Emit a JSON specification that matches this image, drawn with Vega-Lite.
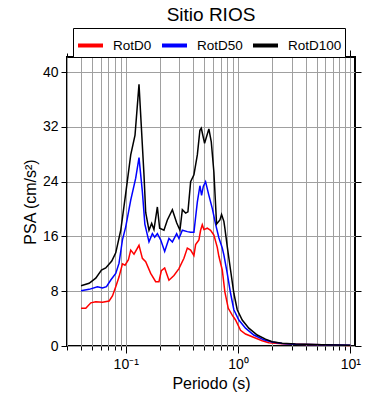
{
  "$schema": "https://vega.github.io/schema/vega-lite/v6.json",
  "width": 288,
  "height": 289,
  "autosize": {"type": "none"},
  "padding": {"left": 67, "top": 57, "right": 35, "bottom": 54},
  "title": {"text": "Sitio RIOS", "fontSize": 19, "font": "Liberation Sans", "fontWeight": "normal", "color": "black", "anchor": "middle", "offset": 3},
  "config": {
    "view": {"stroke": "black", "strokeWidth": 2},
    "font": "Liberation Sans",
    "axis": {"labelFont": "Liberation Sans", "titleFont": "Liberation Sans", "labelColor": "black", "titleColor": "black", "tickColor": "black", "titleFontWeight": "normal"}
  },
  "data": {"values": [
    {"T":0.04,"v":5.5,"s":"RotD0"},{"T":0.0441,"v":5.5,"s":"RotD0"},{"T":0.0489,"v":6.3,"s":"RotD0"},{"T":0.0541,"v":6.47,"s":"RotD0"},{"T":0.0621,"v":6.38,"s":"RotD0"},{"T":0.0711,"v":6.57,"s":"RotD0"},{"T":0.0762,"v":7.3,"s":"RotD0"},{"T":0.0815,"v":8.66,"s":"RotD0"},{"T":0.0872,"v":10.1,"s":"RotD0"},{"T":0.0935,"v":12.0,"s":"RotD0"},{"T":0.0986,"v":11.8,"s":"RotD0"},{"T":0.1057,"v":12.6,"s":"RotD0"},{"T":0.1108,"v":14.0,"s":"RotD0"},{"T":0.1185,"v":13.4,"s":"RotD0"},{"T":0.1313,"v":14.7,"s":"RotD0"},{"T":0.1407,"v":12.8,"s":"RotD0"},{"T":0.1506,"v":12.3,"s":"RotD0"},{"T":0.1668,"v":10.6,"s":"RotD0"},{"T":0.1848,"v":9.4,"s":"RotD0"},{"T":0.1977,"v":9.4,"s":"RotD0"},{"T":0.2076,"v":11.0,"s":"RotD0"},{"T":0.2222,"v":11.4,"s":"RotD0"},{"T":0.2426,"v":9.6,"s":"RotD0"},{"T":0.2688,"v":10.3,"s":"RotD0"},{"T":0.2978,"v":11.3,"s":"RotD0"},{"T":0.3298,"v":12.8,"s":"RotD0"},{"T":0.3536,"v":14.3,"s":"RotD0"},{"T":0.3784,"v":14.0,"s":"RotD0"},{"T":0.4048,"v":13.2,"s":"RotD0"},{"T":0.4191,"v":14.8,"s":"RotD0"},{"T":0.4485,"v":15.5,"s":"RotD0"},{"T":0.4642,"v":16.9,"s":"RotD0"},{"T":0.4805,"v":17.7,"s":"RotD0"},{"T":0.4966,"v":17.0,"s":"RotD0"},{"T":0.5323,"v":17.2,"s":"RotD0"},{"T":0.5696,"v":16.9,"s":"RotD0"},{"T":0.6094,"v":16.2,"s":"RotD0"},{"T":0.6533,"v":14.4,"s":"RotD0"},{"T":0.675,"v":13.1,"s":"RotD0"},{"T":0.7237,"v":11.1,"s":"RotD0"},{"T":0.7633,"v":7.9,"s":"RotD0"},{"T":0.8184,"v":5.5,"s":"RotD0"},{"T":0.8881,"v":4.5,"s":"RotD0"},{"T":0.9502,"v":3.8,"s":"RotD0"},{"T":1.0524,"v":2.3,"s":"RotD0"},{"T":1.1659,"v":1.75,"s":"RotD0"},{"T":1.3371,"v":1.36,"s":"RotD0"},{"T":1.641,"v":0.77,"s":"RotD0"},{"T":1.878,"v":0.49,"s":"RotD0"},{"T":2.471,"v":0.33,"s":"RotD0"},{"T":3.244,"v":0.25,"s":"RotD0"},{"T":5.603,"v":0.17,"s":"RotD0"},{"T":10,"v":0.09,"s":"RotD0"},
    {"T":0.04,"v":8.07,"s":"RotD50"},{"T":0.0472,"v":8.27,"s":"RotD50"},{"T":0.056,"v":8.66,"s":"RotD50"},{"T":0.0621,"v":8.47,"s":"RotD50"},{"T":0.0674,"v":8.66,"s":"RotD50"},{"T":0.0736,"v":9.64,"s":"RotD50"},{"T":0.0815,"v":10.6,"s":"RotD50"},{"T":0.0872,"v":12.1,"s":"RotD50"},{"T":0.0935,"v":15.5,"s":"RotD50"},{"T":0.1,"v":17.4,"s":"RotD50"},{"T":0.1108,"v":21.3,"s":"RotD50"},{"T":0.1227,"v":24.5,"s":"RotD50"},{"T":0.1313,"v":27.5,"s":"RotD50"},{"T":0.1407,"v":22.5,"s":"RotD50"},{"T":0.148,"v":17.8,"s":"RotD50"},{"T":0.1611,"v":15.2,"s":"RotD50"},{"T":0.1727,"v":16.4,"s":"RotD50"},{"T":0.181,"v":15.9,"s":"RotD50"},{"T":0.1913,"v":16.4,"s":"RotD50"},{"T":0.2047,"v":15.5,"s":"RotD50"},{"T":0.2222,"v":13.8,"s":"RotD50"},{"T":0.2426,"v":15.7,"s":"RotD50"},{"T":0.2602,"v":15.2,"s":"RotD50"},{"T":0.2841,"v":16.4,"s":"RotD50"},{"T":0.2978,"v":15.7,"s":"RotD50"},{"T":0.3192,"v":16.9,"s":"RotD50"},{"T":0.3536,"v":16.7,"s":"RotD50"},{"T":0.3784,"v":16.6,"s":"RotD50"},{"T":0.4048,"v":16.6,"s":"RotD50"},{"T":0.434,"v":21.0,"s":"RotD50"},{"T":0.4577,"v":23.4,"s":"RotD50"},{"T":0.4737,"v":22.0,"s":"RotD50"},{"T":0.4905,"v":23.3,"s":"RotD50"},{"T":0.5141,"v":24.0,"s":"RotD50"},{"T":0.55,"v":22.0,"s":"RotD50"},{"T":0.5897,"v":20.1,"s":"RotD50"},{"T":0.631,"v":17.8,"s":"RotD50"},{"T":0.675,"v":15.8,"s":"RotD50"},{"T":0.7237,"v":14.3,"s":"RotD50"},{"T":0.7479,"v":13.3,"s":"RotD50"},{"T":0.8017,"v":10.6,"s":"RotD50"},{"T":0.8577,"v":7.7,"s":"RotD50"},{"T":0.9177,"v":5.3,"s":"RotD50"},{"T":1.0166,"v":3.8,"s":"RotD50"},{"T":1.1659,"v":2.6,"s":"RotD50"},{"T":1.3816,"v":1.6,"s":"RotD50"},{"T":1.696,"v":0.9,"s":"RotD50"},{"T":2.014,"v":0.6,"s":"RotD50"},{"T":2.471,"v":0.37,"s":"RotD50"},{"T":3.244,"v":0.27,"s":"RotD50"},{"T":5.603,"v":0.18,"s":"RotD50"},{"T":10,"v":0.1,"s":"RotD50"},
    {"T":0.04,"v":8.8,"s":"RotD100"},{"T":0.0472,"v":9.15,"s":"RotD100"},{"T":0.0541,"v":9.9,"s":"RotD100"},{"T":0.0608,"v":11.1,"s":"RotD100"},{"T":0.0664,"v":11.4,"s":"RotD100"},{"T":0.0751,"v":12.4,"s":"RotD100"},{"T":0.0815,"v":13.6,"s":"RotD100"},{"T":0.0903,"v":16.9,"s":"RotD100"},{"T":0.1,"v":22.3,"s":"RotD100"},{"T":0.1108,"v":27.9,"s":"RotD100"},{"T":0.121,"v":30.8,"s":"RotD100"},{"T":0.1313,"v":38.2,"s":"RotD100"},{"T":0.1454,"v":25.0,"s":"RotD100"},{"T":0.1506,"v":19.5,"s":"RotD100"},{"T":0.1611,"v":16.9,"s":"RotD100"},{"T":0.1702,"v":17.9,"s":"RotD100"},{"T":0.1784,"v":17.0,"s":"RotD100"},{"T":0.1913,"v":20.3,"s":"RotD100"},{"T":0.2005,"v":17.2,"s":"RotD100"},{"T":0.219,"v":16.9,"s":"RotD100"},{"T":0.2348,"v":18.4,"s":"RotD100"},{"T":0.2602,"v":19.9,"s":"RotD100"},{"T":0.2841,"v":18.0,"s":"RotD100"},{"T":0.3039,"v":16.9,"s":"RotD100"},{"T":0.3192,"v":19.9,"s":"RotD100"},{"T":0.3415,"v":19.4,"s":"RotD100"},{"T":0.358,"v":19.6,"s":"RotD100"},{"T":0.3784,"v":24.0,"s":"RotD100"},{"T":0.4048,"v":25.0,"s":"RotD100"},{"T":0.434,"v":27.9,"s":"RotD100"},{"T":0.4577,"v":31.5,"s":"RotD100"},{"T":0.4708,"v":31.8,"s":"RotD100"},{"T":0.5037,"v":29.6,"s":"RotD100"},{"T":0.55,"v":31.7,"s":"RotD100"},{"T":0.5778,"v":29.8,"s":"RotD100"},{"T":0.6094,"v":25.4,"s":"RotD100"},{"T":0.644,"v":17.8,"s":"RotD100"},{"T":0.69,"v":18.4,"s":"RotD100"},{"T":0.7134,"v":19.2,"s":"RotD100"},{"T":0.7479,"v":18.2,"s":"RotD100"},{"T":0.7633,"v":17.2,"s":"RotD100"},{"T":0.8017,"v":14.5,"s":"RotD100"},{"T":0.8577,"v":11.1,"s":"RotD100"},{"T":0.9177,"v":7.7,"s":"RotD100"},{"T":0.9837,"v":5.3,"s":"RotD100"},{"T":1.0897,"v":3.8,"s":"RotD100"},{"T":1.2474,"v":2.6,"s":"RotD100"},{"T":1.4815,"v":1.6,"s":"RotD100"},{"T":1.756,"v":1.0,"s":"RotD100"},{"T":2.014,"v":0.63,"s":"RotD100"},{"T":2.471,"v":0.39,"s":"RotD100"},{"T":3.244,"v":0.29,"s":"RotD100"},{"T":5.603,"v":0.2,"s":"RotD100"},{"T":10,"v":0.1,"s":"RotD100"}
  ]},
  "layer": [
    {
      "mark": {"type": "line", "strokeWidth": 1.5},
      "encoding": {
        "x": {
          "field": "T", "type": "quantitative",
          "scale": {"type": "log", "domain": [0.03, 11], "nice": false},
          "axis": {
            "orient": "bottom",
            "values": [0.03,0.04,0.05,0.06,0.07,0.08,0.09,0.1,0.2,0.3,0.4,0.5,0.6,0.7,0.8,0.9,1,2,3,4,5,6,7,8,9,10],
            "labelExpr": "datum.value == 0.1 ? '10⁻¹' : datum.value == 1 ? '10⁰' : datum.value == 10 ? '10¹' : ''",
            "labelOverlap": false, "labelFlush": false, "labelBound": false,
            "labelFontSize": 14, "labelPadding": 4,
            "tickSize": {"condition": {"test": "datum.value == 0.1 || datum.value == 1 || datum.value == 10", "value": 7}, "value": 4},
            "tickWidth": 1,
            "grid": true, "gridColor": "#a0a0a0", "gridWidth": 1, "gridOpacity": 1,
            "domain": false,
            "title": "Periodo (s)", "titleFontSize": 16, "titlePadding": 4
          }
        },
        "y": {
          "field": "v", "type": "quantitative",
          "scale": {"domain": [0, 42.2], "nice": false},
          "axis": {
            "orient": "left",
            "values": [0, 8, 16, 24, 32, 40],
            "labelFontSize": 14, "labelPadding": 3,
            "tickSize": 6, "tickWidth": 1,
            "grid": true, "gridColor": "#a0a0a0", "gridWidth": 1, "gridOpacity": 1,
            "domain": false,
            "title": "PSA (cm/s²)", "titleFontSize": 16, "titlePadding": 4
          }
        },
        "color": {
          "field": "s", "type": "nominal",
          "scale": {"domain": ["RotD0", "RotD50", "RotD100"], "range": ["#ff0000", "#0000ff", "#000000"]},
          "legend": {
            "orient": "none", "legendX": 6, "legendY": -29,
            "direction": "horizontal", "title": null,
            "strokeColor": "black", "fillColor": "white", "padding": 3,
            "gridAlign": "none",
            "symbolType": "stroke", "symbolSize": 625, "symbolStrokeWidth": 4,
            "labelFontSize": 13.5, "labelFont": "Liberation Sans", "labelColor": "black",
            "labelOffset": 8, "columnPadding": 2
          }
        }
      }
    },
    {
      "mark": {"type": "point", "opacity": 0},
      "encoding": {
        "x": {
          "field": "T", "type": "quantitative",
          "scale": {"type": "log", "domain": [0.03, 11], "nice": false},
          "axis": {
            "orient": "top",
            "values": [0.03,0.04,0.05,0.06,0.07,0.08,0.09,0.1,0.2,0.3,0.4,0.5,0.6,0.7,0.8,0.9,1,2,3,4,5,6,7,8,9,10],
            "labels": false, "grid": false, "domain": false, "title": null,
            "tickSize": {"condition": {"test": "datum.value == 0.1 || datum.value == 1 || datum.value == 10", "value": 7}, "value": 4},
            "tickWidth": 1
          }
        },
        "y": {
          "field": "v", "type": "quantitative",
          "scale": {"domain": [0, 42.2], "nice": false},
          "axis": {
            "orient": "right",
            "values": [0, 8, 16, 24, 32, 40],
            "labels": false, "grid": false, "domain": false, "title": null,
            "tickSize": 6, "tickWidth": 1
          }
        }
      }
    }
  ],
  "resolve": {"axis": {"x": "independent", "y": "independent"}}
}
